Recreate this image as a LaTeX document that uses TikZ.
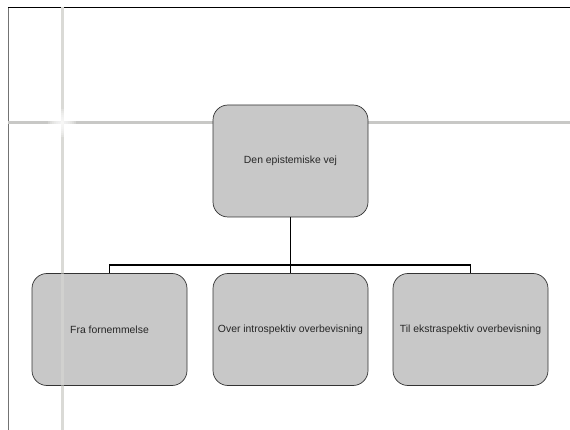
\documentclass[tikz,border=0pt]{standalone}
\usepackage{fontspec}
\setmainfont{Liberation Sans}
\begin{document}
\begin{tikzpicture}[x=1pt,y=-1pt,
  box/.style={draw=black!80,line width=0.7pt,fill=boxgray,rounded corners=15pt,
    minimum width=155pt,minimum height=112pt,inner sep=2pt,font=\fontsize{10.4}{12}\selectfont,text=black!85},
  conn/.style={draw=black,line width=1.5pt}]
\definecolor{boxgray}{HTML}{C8C8C8}
\definecolor{guideV}{HTML}{DADAD6}
\definecolor{guideH}{HTML}{C8C8C6}
\useasboundingbox (0,0) rectangle (570,430);
\fill[white] (0,0) rectangle (570,430);
% frame
\draw[black!55,line width=1pt] (8.5,8) -- (8.5,430);
\draw[black,line width=1pt] (8,8) -- (570,8);
% guide lines
\draw[guideH,line width=3pt] (8,123) -- (570,123);
\draw[guideV,line width=3pt] (62,7) -- (62,430);
\foreach \r in {14,12,...,2} {\fill[white,opacity=0.22] (62,123) circle (\r);}
% nodes
\node[box] (top) at (290.5,161) {Den epistemiske vej};
\node[box] (l) at (109.5,329.5) {Fra fornemmelse};
\node[box] (m) at (290.5,329.5) {Over introspektiv overbevisning};
\node[box] (r) at (470.5,329.5) {Til ekstraspektiv overbevisning};
\fill[guideV,opacity=0.5] (60.5,273.5) rectangle (63.5,385.5);
\coordinate (bus) at (0,265);
% connectors
\draw[conn] (top.south) -- (m.north);
\draw[conn] (l.north) -- (l.north |- bus) -- (r.north |- bus) -- (r.north);
\end{tikzpicture}
\end{document}
